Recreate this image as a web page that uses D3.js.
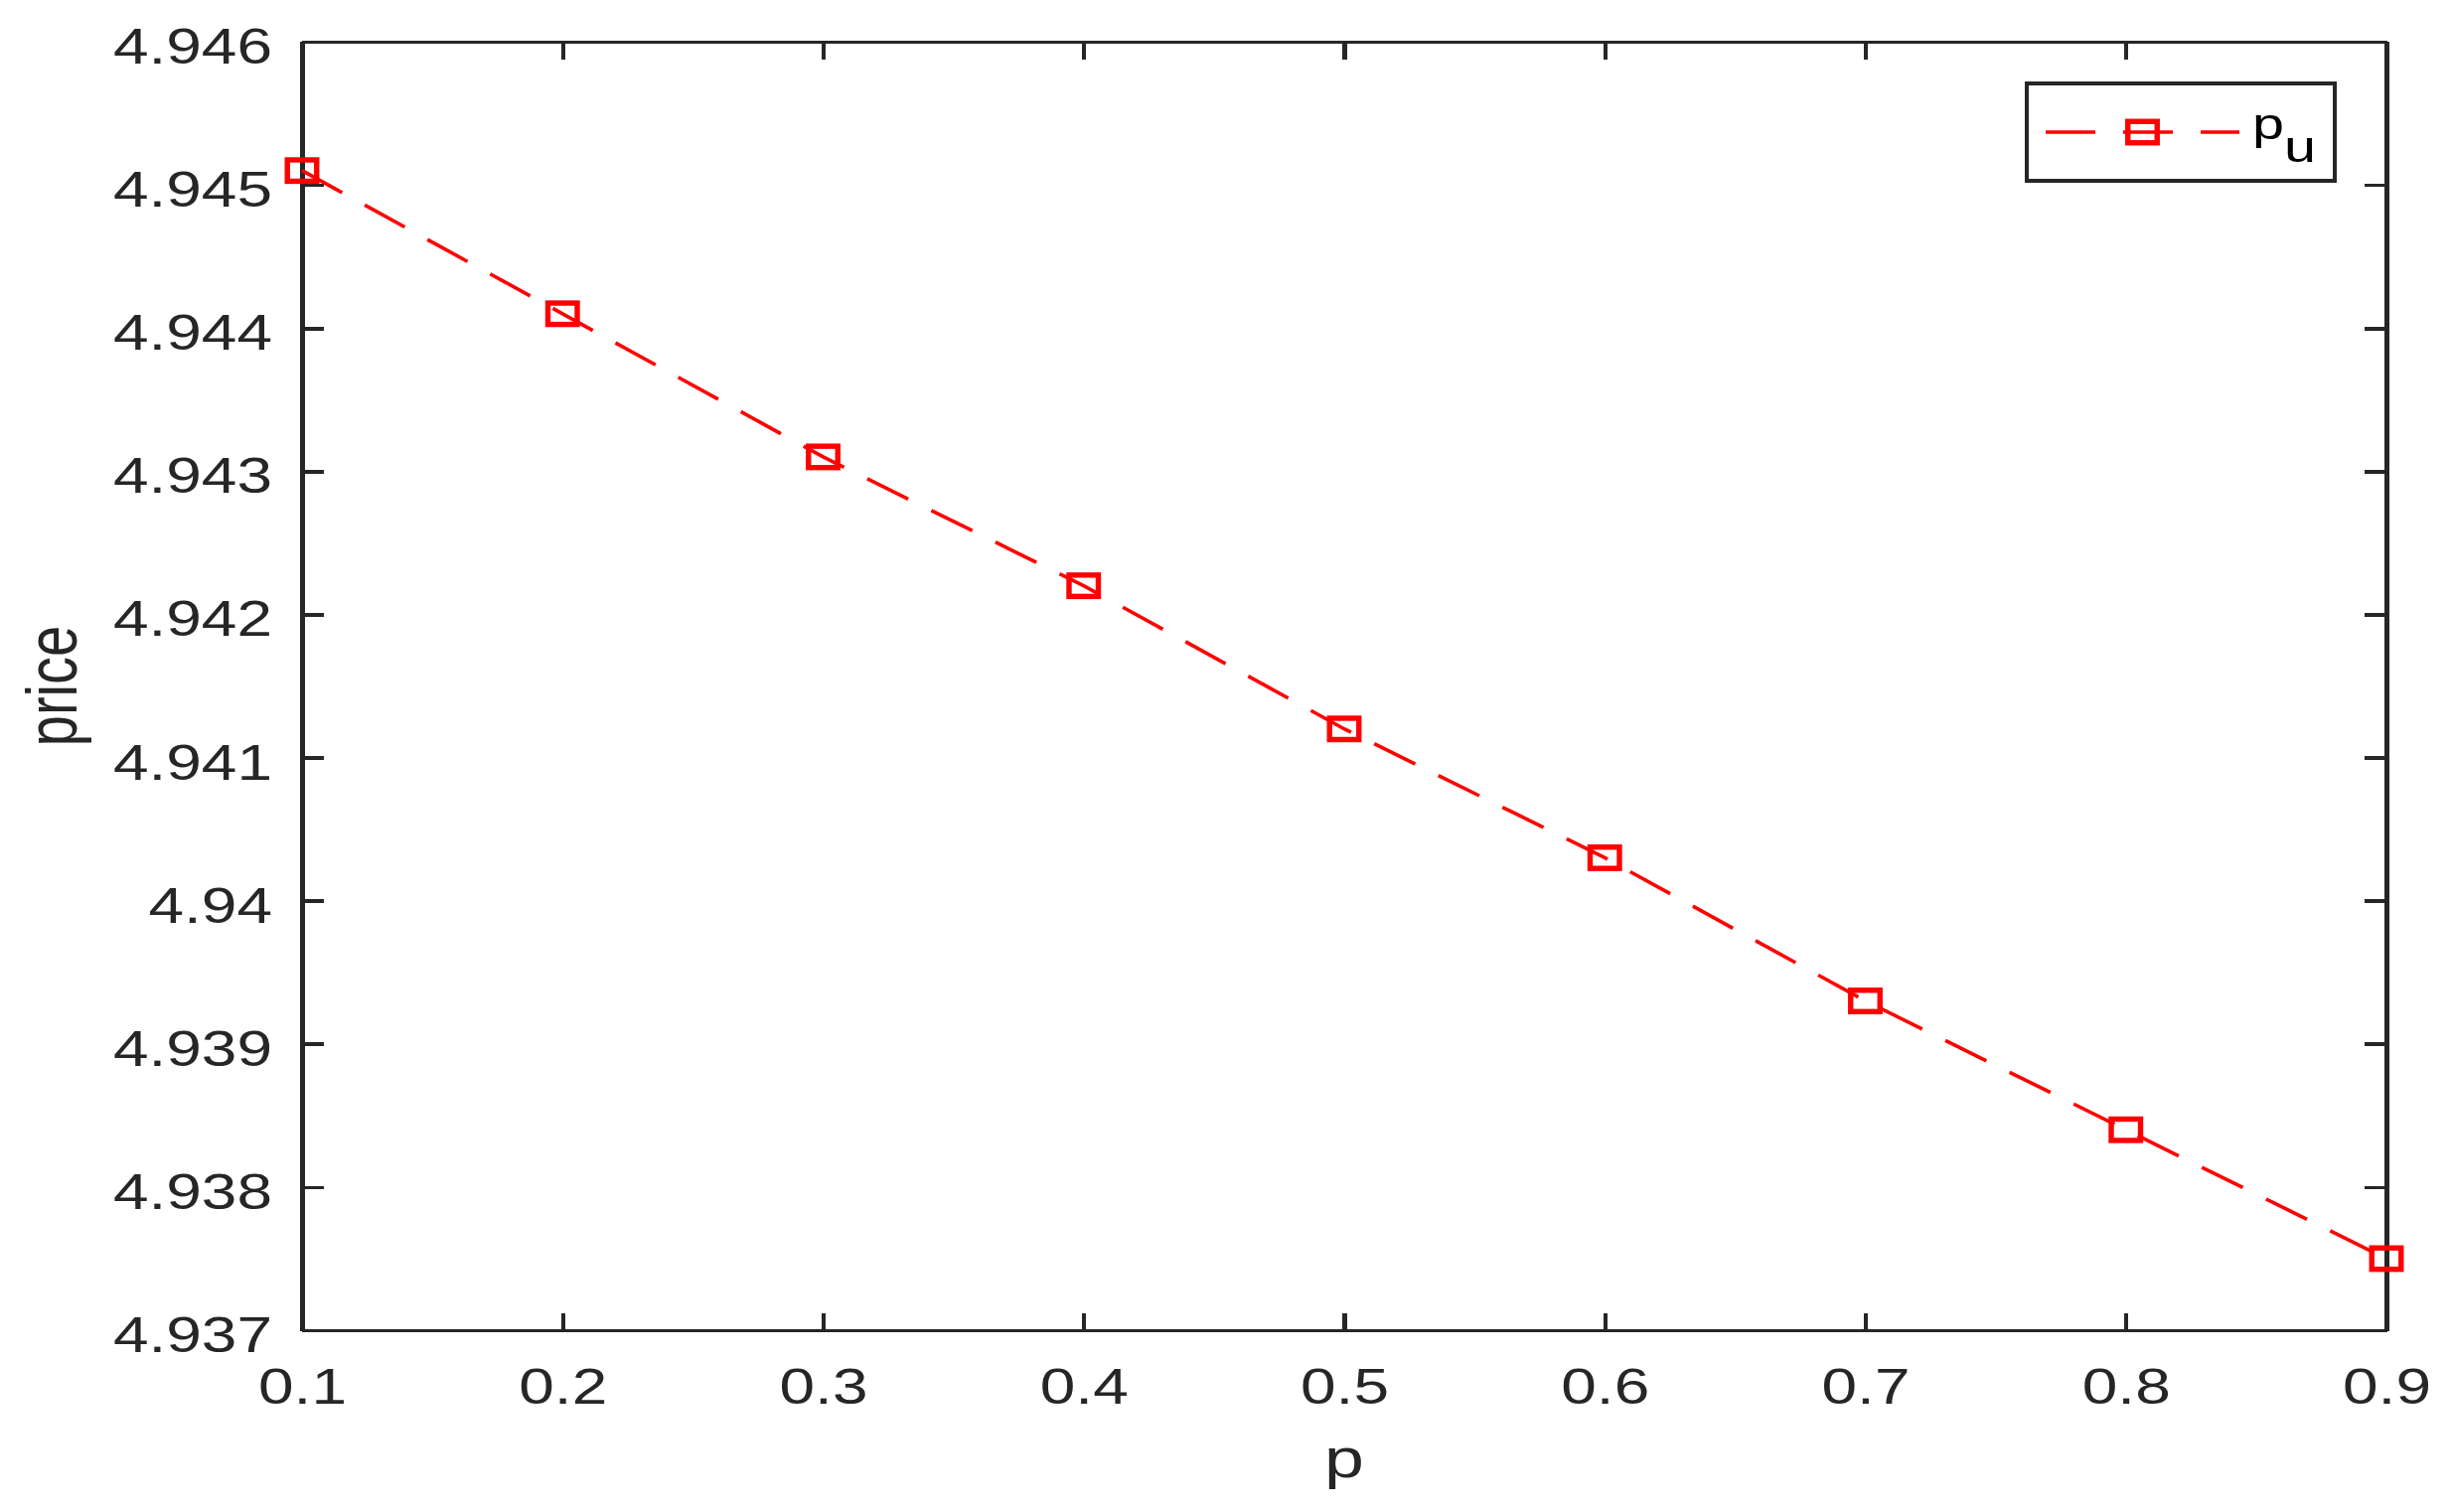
<!DOCTYPE html>
<html>
<head>
<meta charset="utf-8">
<script src="https://cdn.jsdelivr.net/npm/d3@7"></script>
<style>
  html, body { margin: 0; padding: 0; background: #ffffff; }
  svg { display: block; }
</style>
</head>
<body>
<script>
// ---- data ----
const pValues = [0.1, 0.2, 0.3, 0.4, 0.5, 0.6, 0.7, 0.8, 0.9];
const priceValues = [4.9451, 4.9441, 4.9431, 4.9422, 4.9412, 4.9403, 4.9393, 4.9384, 4.9375];
const xTickValues = [0.1, 0.2, 0.3, 0.4, 0.5, 0.6, 0.7, 0.8, 0.9];
const xTickLabels = ["0.1", "0.2", "0.3", "0.4", "0.5", "0.6", "0.7", "0.8", "0.9"];
const yTickValues = [4.937, 4.938, 4.939, 4.940, 4.941, 4.942, 4.943, 4.944, 4.945, 4.946];
const yTickLabels = ["4.937", "4.938", "4.939", "4.94", "4.941", "4.942", "4.943", "4.944", "4.945", "4.946"];
const seriesName = "p";
const seriesSub = "u";
const xLabel = "p";
const yLabel = "price";

(function () {
// ---- layout ----
const W = 2468, H = 1522;
const mLeft = 304, mRight = 2402, mTop = 42, mBottom = 1339;
const axisColor = "#262626";
const red = "#ff0000";
const sx = 1.28; // horizontal stretch of the original figure
const font = "'Liberation Sans', Arial, Helvetica, sans-serif";

const svg = d3.select("body").append("svg")
  .attr("width", W).attr("height", H)
  .style("background", "#fff");

const x = d3.scaleLinear().domain([0.1, 0.9]).range([mLeft, mRight]);
const y = d3.scaleLinear().domain([4.937, 4.946]).range([mBottom, mTop]);

function styleAxis(g, lineW) {
  g.select(".domain").attr("stroke", axisColor).attr("stroke-width", lineW)
    .attr("shape-rendering", "crispEdges");
  g.selectAll(".tick line").attr("stroke", axisColor).attr("shape-rendering", "crispEdges");
  g.selectAll("text")
    .attr("fill", axisColor)
    .style("font-family", font)
    .style("font-size", "50px");
}

// bottom axis
const gB = svg.append("g").attr("transform", `translate(0,${mBottom})`)
  .call(d3.axisBottom(x).tickValues(xTickValues).tickFormat((d, i) => xTickLabels[i])
    .tickSizeInner(-17.5).tickSizeOuter(0));
styleAxis(gB, 3.6);
gB.selectAll(".tick line").attr("stroke-width", 4.3);
gB.selectAll("text").attr("y", null).attr("dy", null)
  .attr("transform", `translate(0,74) scale(${sx},1)`);

// top axis (mirror, no labels)
const gT = svg.append("g").attr("transform", `translate(0,${mTop})`)
  .call(d3.axisTop(x).tickValues(xTickValues).tickFormat("")
    .tickSizeInner(-17.5).tickSizeOuter(0));
styleAxis(gT, 3.6);
gT.selectAll(".tick line").attr("stroke-width", 4.3);

// left axis
const gL = svg.append("g").attr("transform", `translate(${mLeft},0)`)
  .call(d3.axisLeft(y).tickValues(yTickValues).tickFormat((d, i) => yTickLabels[i])
    .tickSizeInner(-22).tickSizeOuter(0));
styleAxis(gL, 4.4);
gL.selectAll(".tick line").attr("stroke-width", 3.6);
gL.selectAll("text").attr("x", null).attr("dy", null)
  .attr("text-anchor", "end")
  .attr("transform", `translate(-30,21.5) scale(${sx},1)`);

// right axis (mirror, no labels)
const gR = svg.append("g").attr("transform", `translate(${mRight},0)`)
  .call(d3.axisRight(y).tickValues(yTickValues).tickFormat("")
    .tickSizeInner(-22).tickSizeOuter(0));
styleAxis(gR, 4.4);
gR.selectAll(".tick line").attr("stroke-width", 3.6);

// ---- series ----
const pts = pValues.map((p, i) => [p, priceValues[i]]);
svg.append("path")
  .datum(pts)
  .attr("d", d3.line().x(d => x(d[0])).y(d => y(d[1])))
  .attr("fill", "none")
  .attr("stroke", red)
  .attr("stroke-width", 3.6)
  .attr("stroke-dasharray", "46,26");

const mw = 29.5, mh = 21.5;
svg.append("g").selectAll("rect")
  .data(pts).join("rect")
  .attr("x", d => x(d[0]) - mw / 2)
  .attr("y", d => y(d[1]) - mh / 2)
  .attr("width", mw).attr("height", mh)
  .attr("fill", "none")
  .attr("stroke", red)
  .attr("stroke-width", 5.4);

// ---- axis labels ----
svg.append("text")
  .attr("transform", `translate(${(mLeft + mRight) / 2},1487) scale(${sx},1)`)
  .attr("text-anchor", "middle")
  .attr("fill", axisColor)
  .style("font-family", font).style("font-size", "56px")
  .text(xLabel);

svg.append("text")
  .attr("transform", `translate(77,${(mTop + mBottom) / 2}) scale(${sx},1) rotate(-90)`)
  .attr("text-anchor", "middle")
  .attr("fill", axisColor)
  .style("font-family", font).style("font-size", "56px")
  .text(yLabel);

// ---- legend ----
const lg = svg.append("g");
lg.append("rect")
  .attr("x", 2040).attr("y", 84).attr("width", 310).attr("height", 98)
  .attr("fill", "#fff").attr("stroke", axisColor).attr("stroke-width", 4)
  .attr("shape-rendering", "crispEdges");
lg.append("line")
  .attr("x1", 2059).attr("x2", 2254).attr("y1", 133).attr("y2", 133)
  .attr("stroke", red).attr("stroke-width", 3.6)
  .attr("stroke-dasharray", "50,28");
lg.append("rect")
  .attr("x", 2156.5 - mw / 2).attr("y", 133 - mh / 2)
  .attr("width", mw).attr("height", mh)
  .attr("fill", "none").attr("stroke", red).attr("stroke-width", 5.4);
const lt = lg.append("text")
  .attr("transform", `translate(2267,140) scale(${sx},1)`)
  .attr("fill", "#000")
  .style("font-family", font).style("font-size", "45px");
lt.append("tspan").text(seriesName);
lt.append("tspan").attr("dy", 23).text(seriesSub);
})();
</script>
</body>
</html>
